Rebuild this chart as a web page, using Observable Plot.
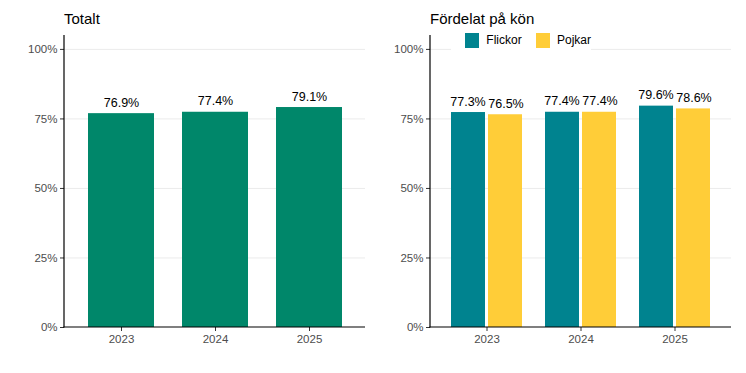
<!DOCTYPE html>
<html>
<head>
<meta charset="utf-8">
<script src="https://cdn.jsdelivr.net/npm/d3@7"></script>
<script src="https://cdn.jsdelivr.net/npm/@observablehq/plot@0.6"></script>
<style>
  body { margin: 0; background: #fff; font-family: "Liberation Sans", Arial, sans-serif; }
  #wrap { position: relative; width: 746px; height: 373px; }
  .panel { position: absolute; top: 0; }
  .title { position: absolute; font-size: 15px; color: #000; top: 10px; }
  #legend { position: absolute; left: 451px; top: 29px; width: 140px; height: 22px; background: #fff;
            display: flex; align-items: center; font-size: 12px; color: #000; }
  .sw { width: 15px; height: 15px; display: inline-block; margin-left: 14px; margin-right: 7px; }
</style>
</head>
<body>
<div id="wrap">
  <div class="panel" id="left" style="left:0"></div>
  <div class="panel" id="right" style="left:373px"></div>
  <div class="title" style="left:64px">Totalt</div>
  <div class="title" style="left:430px">Fördelat på kön</div>
  <div id="legend"></div>
</div>
<script>
const years = ["2023", "2024", "2025"];
const totalValues = [76.9, 77.4, 79.1];
const genders = ["Flickor", "Pojkar"];
const flickorValues = [77.3, 77.4, 79.6];
const pojkarValues = [76.5, 77.4, 78.6];
const yTicks = [0, 25, 50, 75, 100];

const colors = { total: "#00876a", Flickor: "#00838f", Pojkar: "#ffcd38" };
const fmt = v => v.toFixed(1) + "%";

const total = years.map((y, i) => ({ year: y, value: totalValues[i] }));
const byGender = years.flatMap((y, i) => [
  { year: y, gender: "Flickor", value: flickorValues[i] },
  { year: y, gender: "Pojkar", value: pojkarValues[i] }
]);

// frame lines (left and bottom axis lines)
function axisLines(index, scales, values, dims) {
  const ns = "http://www.w3.org/2000/svg";
  const g = document.createElementNS(ns, "g");
  const x0 = dims.marginLeft, x1 = dims.width - dims.marginRight;
  const y0 = dims.marginTop, y1 = dims.height - dims.marginBottom;
  const mk = (a, b, c, d) => {
    const l = document.createElementNS(ns, "line");
    l.setAttribute("x1", a); l.setAttribute("y1", b); l.setAttribute("x2", c); l.setAttribute("y2", d);
    l.setAttribute("stroke", "#000"); l.setAttribute("stroke-width", "1.2");
    g.appendChild(l);
  };
  mk(x0, y0, x0, y1 + 0.6);
  mk(x0 - 0.6, y1, x1, y1);
  return g;
}

function makePlot(opts, marks) {
  return Plot.plot({
    height: 373,
    marginTop: 35,
    marginBottom: 46,
    width: 373,
    ...opts,
    style: { fontFamily: "Liberation Sans, Arial, sans-serif", fontSize: "11px", background: "#fff", overflow: "visible" },
    y: { domain: [0, 105], label: null },
    marks: [
      Plot.gridY(yTicks.filter(d => d > 0), { stroke: "#ebebeb", strokeOpacity: 1, strokeWidth: 1 }),
      ...marks,
      Plot.axisX({ tickSize: 4, tickPadding: 3, fill: "#4d4d4d", stroke: "#333", fontSize: 11.5, label: null }),
      Plot.axisY({ ticks: yTicks, tickFormat: d => d + "%", tickSize: 4, tickPadding: 3, fill: "#4d4d4d", stroke: "#333", fontSize: 11.5, label: null }),
      axisLines
    ]
  });
}

const leftPlot = makePlot({
  marginLeft: 64,
  marginRight: 8,
  x: { domain: years, paddingInner: 0.3, paddingOuter: 0.25, label: null }
}, [
  Plot.barY(total, { x: "year", y: "value", fill: colors.total }),
  Plot.text(total, { x: "year", y: "value", text: d => fmt(d.value), lineAnchor: "bottom", dy: -7, fontSize: 12.5, fill: "#000" })
]);

const bw = 71, bar = 34;
const rightPlot = makePlot({
  marginLeft: 57,
  marginRight: 15,
  x: { domain: years, paddingInner: 0.245, paddingOuter: 0.2225, label: null }
}, [
  Plot.barY(byGender.filter(d => d.gender === "Flickor"), { x: "year", y: "value", fill: colors.Flickor, insetRight: bw - bar }),
  Plot.barY(byGender.filter(d => d.gender === "Pojkar"), { x: "year", y: "value", fill: colors.Pojkar, insetLeft: bw - bar }),
  Plot.text(byGender.filter(d => d.gender === "Flickor"), { x: "year", y: "value", text: d => fmt(d.value), dx: -(bw - bar) / 2 - 0.5, lineAnchor: "bottom", dy: -7, fontSize: 12.5, fill: "#000" }),
  Plot.text(byGender.filter(d => d.gender === "Pojkar"), { x: "year", y: "value", text: d => fmt(d.value), dx: (bw - bar) / 2 + 0.5, lineAnchor: "bottom", dy: -7, fontSize: 12.5, fill: "#000" })
]);

document.getElementById("left").appendChild(leftPlot);
document.getElementById("right").appendChild(rightPlot);

const legend = document.getElementById("legend");
genders.forEach(g => {
  const sw = document.createElement("span");
  sw.className = "sw";
  sw.style.background = colors[g];
  legend.appendChild(sw);
  const t = document.createElement("span");
  t.textContent = g;
  legend.appendChild(t);
});
</script>
</body>
</html>
